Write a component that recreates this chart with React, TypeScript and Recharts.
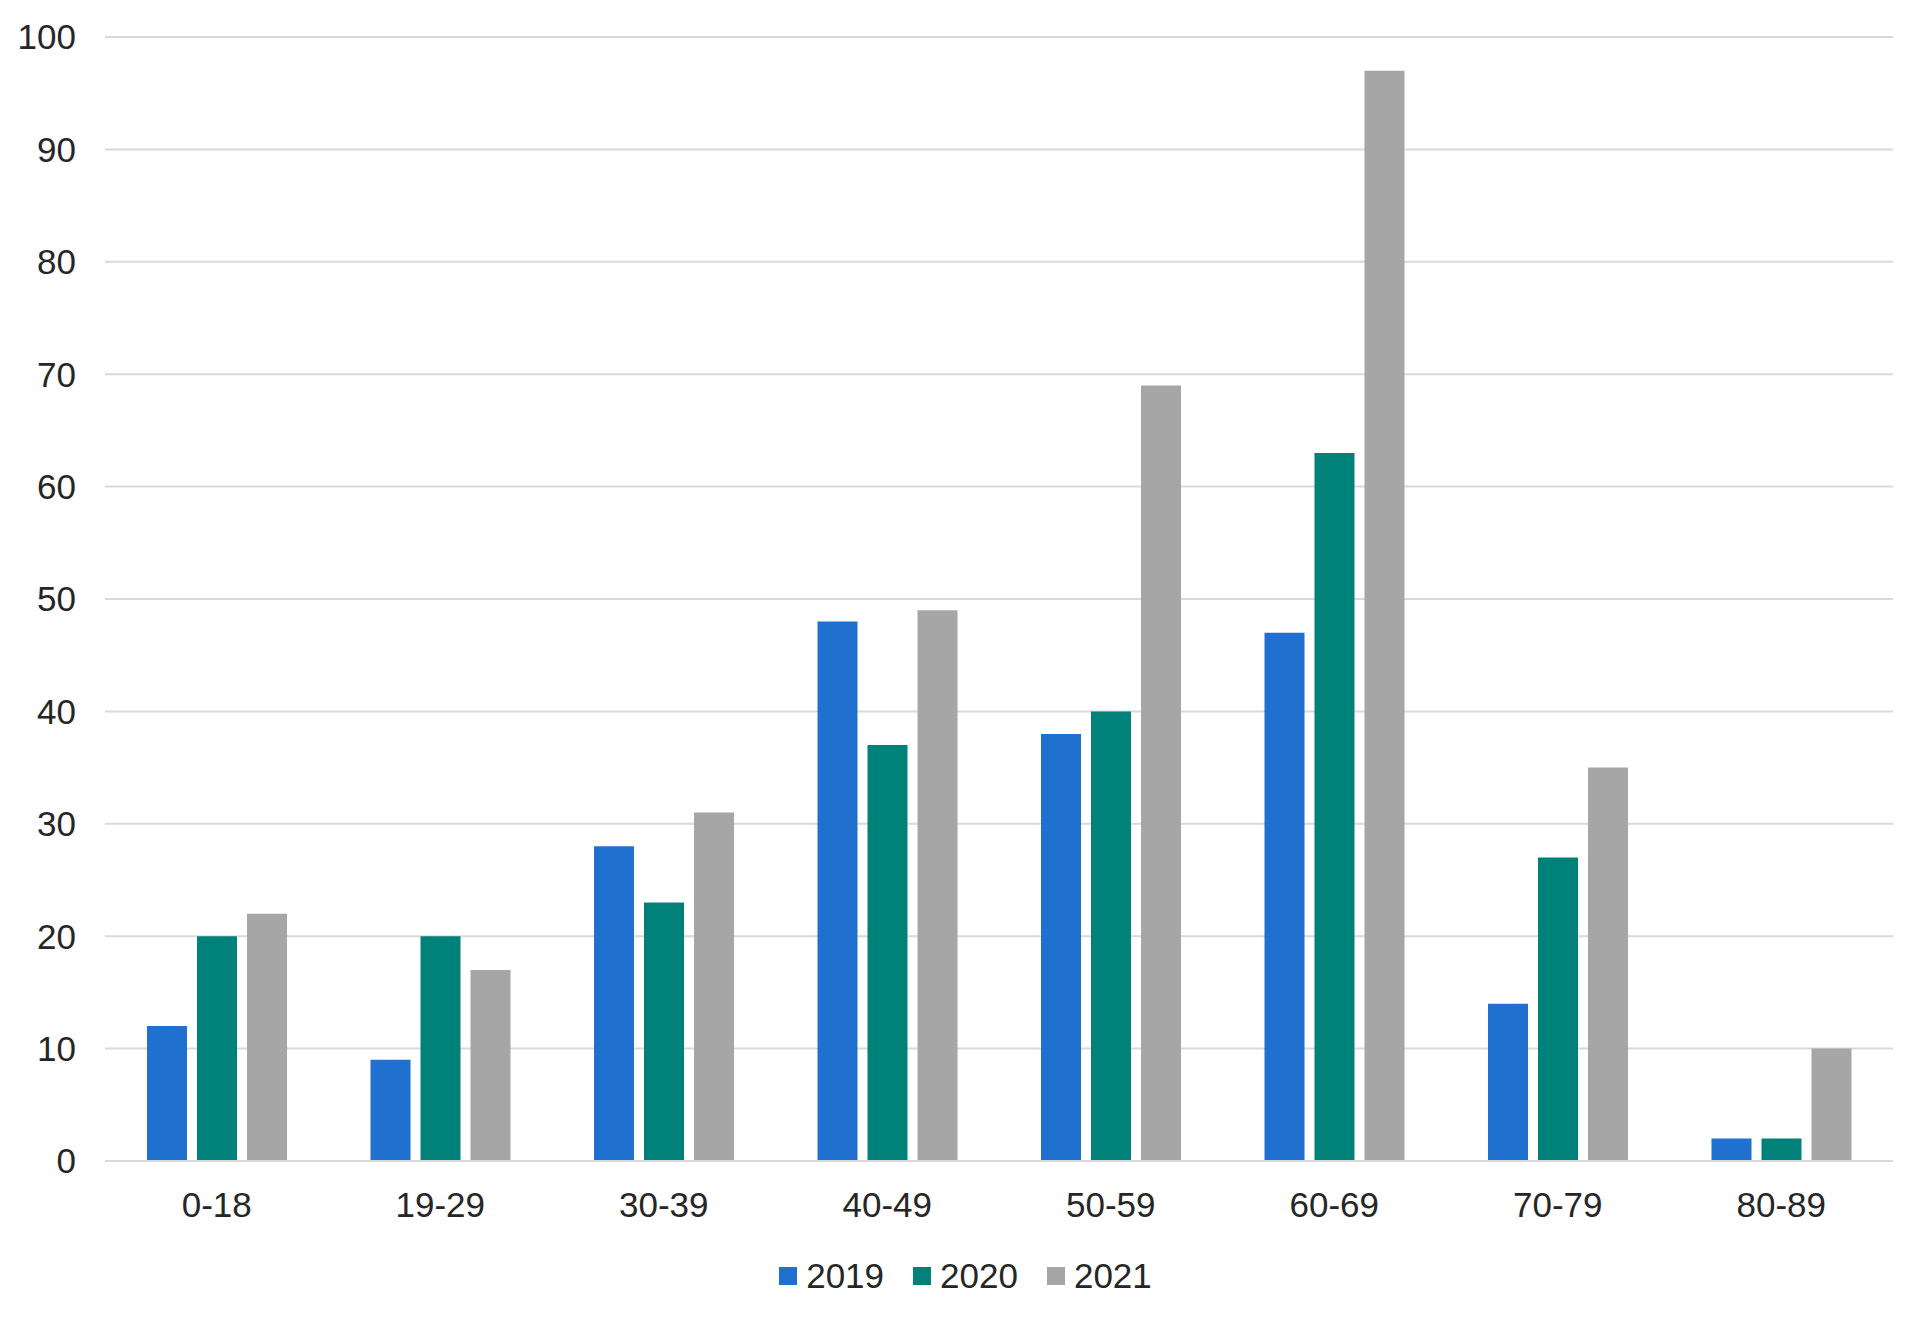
import React from 'react';
import { BarChart, Bar, XAxis, YAxis, CartesianGrid, Legend } from 'recharts';

const categories = ['0-18', '19-29', '30-39', '40-49', '50-59', '60-69', '70-79', '80-89'];
const values2019 = [12, 9, 28, 48, 38, 47, 14, 2];
const values2020 = [20, 20, 23, 37, 40, 63, 27, 2];
const values2021 = [22, 17, 31, 49, 69, 97, 35, 10];
const yTicks = [0, 10, 20, 30, 40, 50, 60, 70, 80, 90, 100];
const seriesNames = ['2019', '2020', '2021'];
const seriesColors = ['#1F70CF', '#00827B', '#A6A6A6'];

const data = categories.map((c, i) => ({
  name: c,
  '2019': values2019[i],
  '2020': values2020[i],
  '2021': values2021[i],
}));

const FONT = '"Liberation Sans", Arial, sans-serif';

const renderLegend = (props: any) => {
  const payload = props.payload || [];
  return (
    <div
      style={{
        display: 'flex',
        justifyContent: 'center',
        alignItems: 'center',
        height: 40,
        paddingLeft: 6,
        fontFamily: FONT,
        fontSize: 35,
        color: '#262626',
      }}
    >
      {payload.map((p: any, i: number) => (
        <div key={i} style={{ display: 'flex', alignItems: 'center', marginRight: i < payload.length - 1 ? 29 : 0 }}>
          <div style={{ width: 18, height: 18, background: p.color, marginRight: 9 }} />
          <span>{p.value}</span>
        </div>
      ))}
    </div>
  );
};

export default function App() {
  return (
    <div style={{ position: 'absolute', left: 0, top: 0, background: '#fff' }}>
      <BarChart
        width={1925}
        height={1318}
        data={data}
        margin={{ top: 37, right: 32, left: 0, bottom: 22 }}
        barSize={40}
        barGap={10}
      >
        <CartesianGrid vertical={false} stroke="#D9D9D9" strokeWidth={2} />
        <XAxis
          dataKey="name"
          height={95}
          axisLine={{ stroke: '#D9D9D9', strokeWidth: 2 }}
          tickLine={false}
          tickMargin={25}
          tick={{ fontSize: 35, fill: '#262626', fontFamily: FONT }}
          interval={0}
        />
        <YAxis
          width={105}
          domain={[0, 100]}
          ticks={yTicks}
          axisLine={false}
          tickLine={false}
          tickMargin={23}
          tick={{ fontSize: 35, fill: '#262626', fontFamily: FONT }}
          interval={0}
        />
        <Legend
          verticalAlign="bottom"
          content={renderLegend}
          wrapperStyle={{ left: 0, width: 1925, bottom: 22 }}
        />
        {seriesNames.map((s, i) => (
          <Bar key={s} dataKey={s} name={s} fill={seriesColors[i]} isAnimationActive={false} />
        ))}
      </BarChart>
    </div>
  );
}
